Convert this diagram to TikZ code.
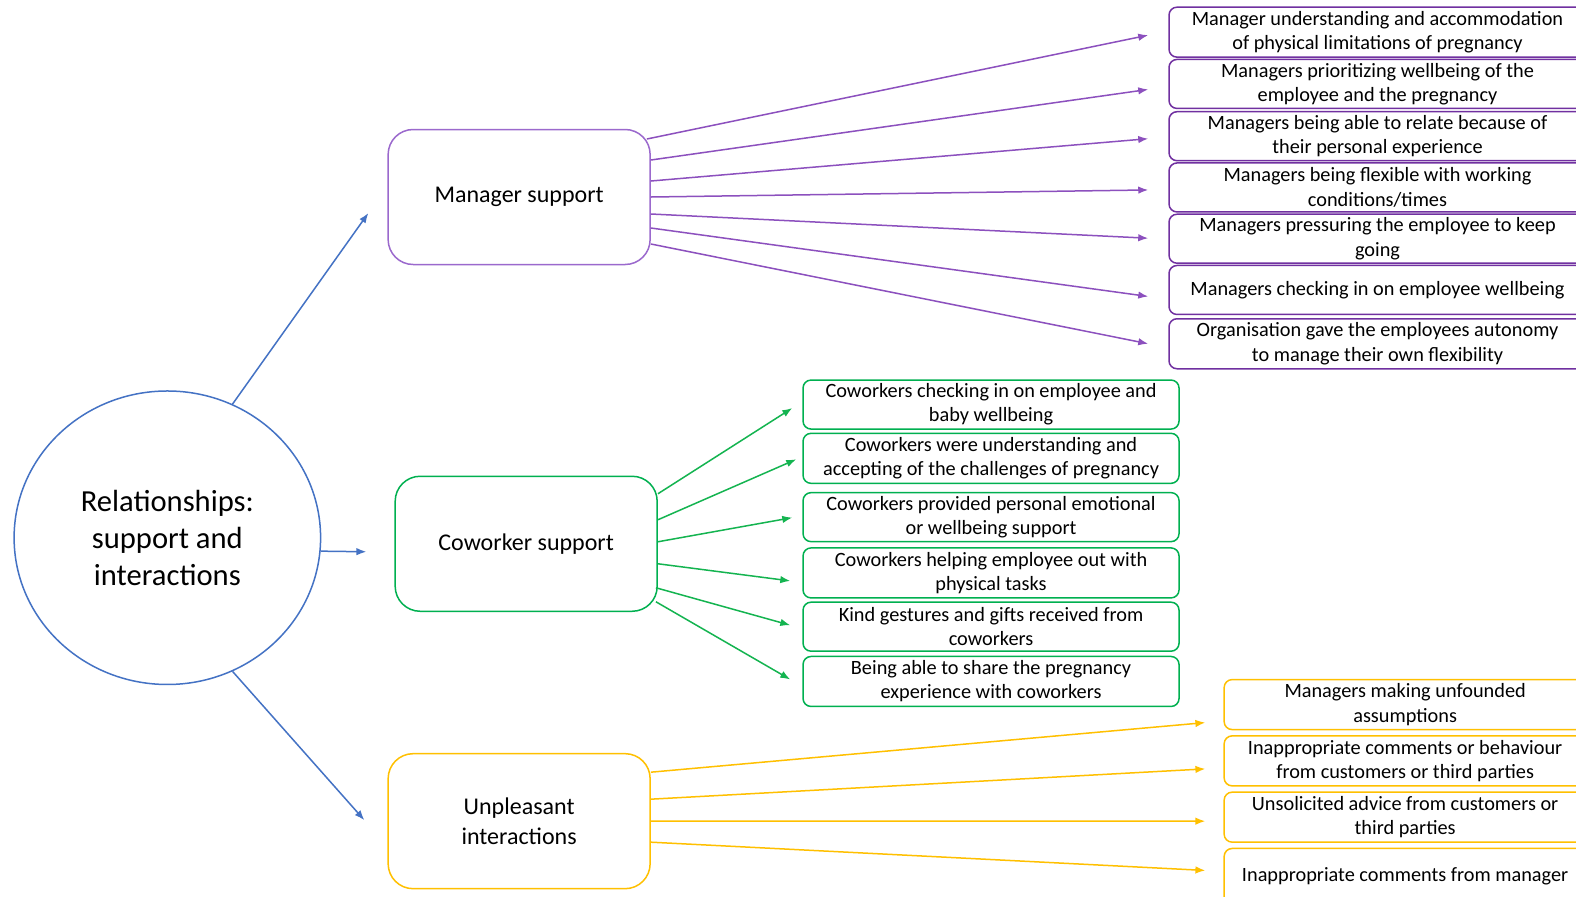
\documentclass[tikz,border=0pt]{standalone}
\usepackage{fontspec}
\setmainfont{Carlito}
\usetikzlibrary{arrows.meta,shapes.geometric}
\definecolor{pline}{RGB}{140,80,190}
\definecolor{pbox}{RGB}{112,48,160}
\definecolor{pbig}{RGB}{155,105,205}
\definecolor{gline}{RGB}{20,180,80}
\definecolor{gbox}{RGB}{0,176,80}
\definecolor{yline}{RGB}{255,192,0}
\definecolor{bline}{RGB}{68,114,196}
\tikzset{
  small/.style={draw, line width=1.5pt, rounded corners=8pt, align=center, inner sep=0pt,
    font=\fontsize{20.3}{24.2}\selectfont},
  big/.style={draw, line width=1.5pt, rounded corners=25pt, align=center, inner sep=0pt,
    minimum width=262pt, minimum height=135pt, font=\fontsize{24}{29.2}\selectfont},
  tip/.style={-{Latex[length=10pt,width=7.5pt]}, line width=1.5pt},
}
\begin{document}
\begin{tikzpicture}[x=1.0051pt,y=-1.0051pt]
\useasboundingbox (0,0) rectangle (1568,891.5);
\fill[white] (0,0) rectangle (1568,891.5);

% central circle
\node[draw=bline, line width=1.5pt, ellipse, minimum width=306.5pt, minimum height=293.5pt, inner sep=0pt,
  align=center, font=\fontsize{30.6}{37.2}\selectfont] (c) at (166.5,535)
  {Relationships:\\support and\\interactions};

% main boxes
\node[big, draw=pbig] (ms) at (516.5,196) {Manager support};
\node[big, draw=gbox] (cs) at (523.5,541) {Coworker support};
\node[big, draw=yline] (us) at (516.5,817) {Unpleasant\\interactions};

% purple boxes
\tikzset{pb/.style={small, draw=pbox, minimum width=417pt}}
\node[pb, minimum height=50pt] (p1) at (1370.5,32) {Manager understanding and accommodation\\of physical limitations of pregnancy};
\node[pb, minimum height=49pt] (p2) at (1370.5,83.5) {Managers prioritizing wellbeing of the\\employee and the pregnancy};
\node[pb, minimum height=49pt] (p3) at (1370.5,135.5) {Managers being able to relate because of\\their personal experience};
\node[pb, minimum height=49pt] (p4) at (1370.5,186.5) {Managers being flexible with working\\conditions/times};
\node[pb, minimum height=49pt] (p5) at (1370.5,237.5) {Managers pressuring the employee to keep\\going};
\node[pb, minimum height=49pt] (p6) at (1370.5,288.5) {Managers checking in on employee wellbeing};
\node[pb, minimum height=50pt] (p7) at (1370.5,342) {Organisation gave the employees autonomy\\to manage their own flexibility};

% green boxes
\tikzset{gb/.style={small, draw=gbox, minimum width=376pt}}
\node[gb, minimum height=49pt] (g1) at (986,402.5) {Coworkers checking in on employee and\\baby wellbeing};
\node[gb, minimum height=50pt] (g2) at (986,456) {Coworkers were understanding and\\accepting of the challenges of pregnancy};
\node[gb, minimum height=49pt] (g3) at (986,514.5) {Coworkers provided personal emotional\\or wellbeing support};
\node[gb, minimum height=50pt] (g4) at (986,570) {Coworkers helping employee out with\\physical tasks};
\node[gb, minimum height=49pt] (g5) at (986,623.5) {Kind gestures and gifts received from\\coworkers};
\node[gb, minimum height=50pt] (g6) at (986,678) {Being able to share the pregnancy\\experience with coworkers};

% yellow boxes
\tikzset{yb/.style={small, draw=yline, minimum width=362pt, minimum height=50pt}}
\node[yb] (y1) at (1398,701) {Managers making unfounded\\assumptions};
\node[yb] (y2) at (1398,757) {Inappropriate comments or behaviour\\from customers or third parties};
\node[yb] (y3) at (1398,813) {Unsolicited advice from customers or\\third parties};
\node[yb, minimum height=56pt] (y4) at (1398,872) {Inappropriate comments from manager};

% blue connectors
\draw[tip, bline] (c.64.5) -- ([xshift=-19pt,yshift=-16pt]ms.west);
\draw[tip, bline] (c.-5.2) -- ([xshift=-28pt,yshift=-8pt]cs.west);
\draw[tip, bline] (c.-64.6) -- ([xshift=-23pt,yshift=1pt]us.west);

% purple connectors
\draw[tip, pline] ([xshift=-4pt,yshift=58pt]ms.east) -- ([xshift=-20pt,yshift=-3pt]p1.west);
\draw[tip, pline] ([yshift=37pt]ms.east) -- ([xshift=-20pt,yshift=-5.5pt]p2.west);
\draw[tip, pline] ([yshift=16pt]ms.east) -- ([xshift=-20pt,yshift=-2.5pt]p3.west);
\draw[tip, pline] (ms.east) -- ([xshift=-20pt,yshift=-2.5pt]p4.west);
\draw[tip, pline] ([yshift=-17pt]ms.east) -- ([xshift=-20pt,yshift=0.5pt]p5.west);
\draw[tip, pline] ([yshift=-31pt]ms.east) -- ([xshift=-20pt,yshift=-6.5pt]p6.west);
\draw[tip, pline] ([yshift=-47pt]ms.east) -- ([xshift=-20pt]p7.west);

% green connectors
\draw[tip, gline] ([yshift=50pt]cs.east) -- ([xshift=-10pt,yshift=-3.5pt]g1.west);
\draw[tip, gline] ([yshift=24pt]cs.east) -- ([xshift=-6pt,yshift=-1pt]g2.west);
\draw[tip, gline] ([yshift=2pt]cs.east) -- ([xshift=-10pt,yshift=-0.5pt]g3.west);
\draw[tip, gline] ([yshift=-20pt]cs.east) -- ([xshift=-12pt,yshift=-8pt]g4.west);
\draw[tip, gline] ([xshift=-2pt,yshift=-44pt]cs.east) -- ([xshift=-12pt,yshift=1.5pt]g5.west);
\draw[tip, gline] ([xshift=-2pt,yshift=-58pt]cs.east) -- ([xshift=-12pt,yshift=2pt]g6.west);

% yellow connectors
\draw[tip, yline] ([yshift=49pt]us.east) -- ([xshift=-18pt,yshift=-18pt]y1.west);
\draw[tip, yline] ([yshift=22pt]us.east) -- ([xshift=-18pt,yshift=-8pt]y2.west);
\draw[tip, yline] (us.east) -- ([xshift=-18pt,yshift=-4pt]y3.west);
\draw[tip, yline] ([yshift=-21pt]us.east) -- ([xshift=-18pt,yshift=6pt]y4.west);
\end{tikzpicture}
\end{document}
